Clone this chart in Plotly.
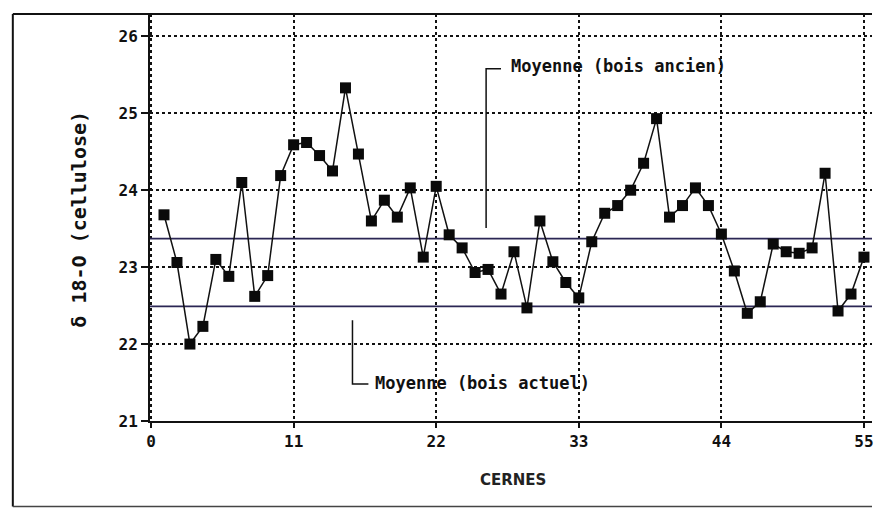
import plotly.graph_objects as go

# Ring index and δ18O of cellulose per ring
cernes = list(range(1, 56))
delta18o = [
    23.68, 23.06, 22.00, 22.23, 23.10, 22.88, 24.10, 22.62, 22.89, 24.19,
    24.59, 24.62, 24.45, 24.25, 25.33, 24.47, 23.60, 23.87, 23.65, 24.03,
    23.13, 24.05, 23.42, 23.25, 22.93, 22.97, 22.65, 23.20, 22.47, 23.60,
    23.07, 22.80, 22.60, 23.33, 23.70, 23.80, 24.00, 24.35, 24.93, 23.65,
    23.80, 24.03, 23.80, 23.43, 22.95, 22.40, 22.55, 23.30, 23.20, 23.18,
    23.25, 24.22, 22.43, 22.65, 23.13,
]

# Mean values for the two wood samples
moyenne_ancien = 23.37
moyenne_actuel = 22.49

x_ticks = [0, 11, 22, 33, 44, 55]
y_ticks = [21, 22, 23, 24, 25, 26]

X_RANGE = [-0.08, 55.62]
Y_RANGE = [21, 26.29]

mono = "DejaVu Sans Mono"
mean_color = "#2b2654"
ink = "#111111"

fig = go.Figure()

# Horizontal mean lines
for m in (moyenne_ancien, moyenne_actuel):
    fig.add_trace(go.Scatter(
        x=X_RANGE, y=[m, m], mode="lines",
        line=dict(color=mean_color, width=1.6),
        hoverinfo="skip", showlegend=False,
    ))

# Measured series
fig.add_trace(go.Scatter(
    x=cernes, y=delta18o, mode="lines+markers",
    line=dict(color=ink, width=1.5),
    marker=dict(symbol="square", size=11, color="#0a0a0a",
                line=dict(color="#0a0a0a", width=0)),
    showlegend=False,
))

# Leader lines for the mean labels
fig.add_trace(go.Scatter(
    x=[25.85, 25.85, 27.0], y=[23.51, 25.58, 25.58], mode="lines",
    line=dict(color=ink, width=1.5), hoverinfo="skip", showlegend=False,
))
fig.add_trace(go.Scatter(
    x=[15.54, 15.54, 16.77], y=[22.31, 21.48, 21.48], mode="lines",
    line=dict(color=ink, width=1.5), hoverinfo="skip", showlegend=False,
))

label_font = dict(family=mono, size=17, color=ink, weight="bold")
fig.add_annotation(x=27.6, y=25.62, xref="x", yref="y", xanchor="left",
                   yanchor="middle", showarrow=False,
                   text="Moyenne (bois ancien)", font=label_font)
fig.add_annotation(x=17.15, y=21.5, xref="x", yref="y", xanchor="left",
                   yanchor="middle", showarrow=False,
                   text="Moyenne (bois actuel)", font=label_font)

# Axis titles
fig.add_annotation(x=-0.0995, y=0.495, xref="paper", yref="paper",
                   xanchor="center", yanchor="middle", showarrow=False,
                   textangle=-90, text="δ 18-O (cellulose)",
                   font=dict(family=mono, size=20, color=ink, weight="bold"))
fig.add_annotation(x=0.503, y=-0.145, xref="paper", yref="paper",
                   xanchor="center", yanchor="middle", showarrow=False,
                   text="CERNES",
                   font=dict(family="DejaVu Sans", size=15, color="#222222",
                             weight=600))

# Outer frame of the figure
frame = dict(color=ink, width=2)
fig.add_shape(type="line", xref="paper", yref="paper",
              x0=-0.19, x1=1.0, y0=1.0, y1=1.0, line=frame)
fig.add_shape(type="line", xref="paper", yref="paper",
              x0=-0.19, x1=-0.19, y0=1.0, y1=-0.21, line=frame)
fig.add_shape(type="line", xref="paper", yref="paper",
              x0=-0.19, x1=1.0, y0=-0.21, y1=-0.21,
              line=dict(color="#444444", width=1.5))

fig.update_layout(
    width=874, height=510,
    margin=dict(l=150, r=0, t=14, b=89),
    paper_bgcolor="white", plot_bgcolor="white",
    showlegend=False,
)
tick_font = dict(family=mono, size=16, color=ink, weight="bold")
fig.update_xaxes(
    range=X_RANGE, tickvals=x_ticks, ticktext=[str(v) for v in x_ticks],
    showline=True, linecolor=ink, linewidth=2,
    ticks="outside", ticklen=5, tickcolor=ink, tickwidth=1.5,
    showgrid=True, gridcolor=ink, griddash="dot", gridwidth=1.5,
    zeroline=False, tickfont=tick_font, ticklabeloverflow="allow",
)
fig.update_yaxes(
    range=Y_RANGE, tickvals=y_ticks, ticktext=[str(v) for v in y_ticks],
    showline=True, linecolor=ink, linewidth=2,
    ticks="outside", ticklen=7, tickcolor=ink, tickwidth=1.5,
    showgrid=True, gridcolor=ink, griddash="dot", gridwidth=1.5,
    zeroline=False, tickfont=tick_font, ticklabeloverflow="allow",
)

fig.write_html("out.html")
